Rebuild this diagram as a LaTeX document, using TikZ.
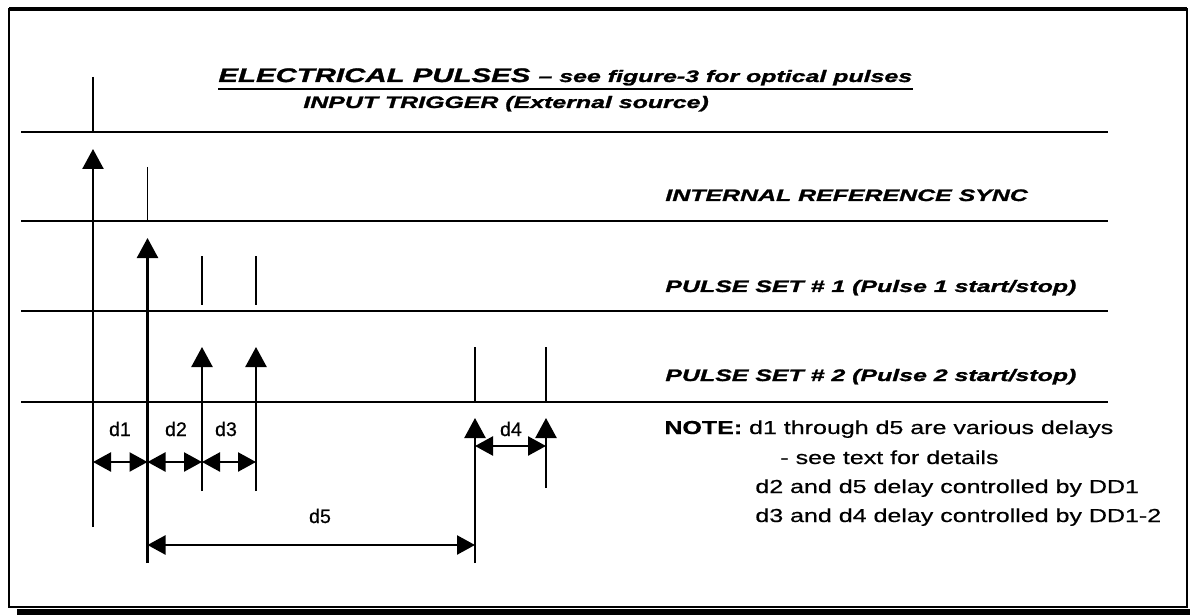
\documentclass[tikz,border=0pt]{standalone}
\usepackage{fontspec}
\setmainfont[FakeBold=0.6]{Liberation Sans}
\newfontfamily\tagfont[FakeStretch=1.5,FakeBold=1.4]{Liberation Sans}
\newfontfamily\notefont[FakeStretch=1.33,FakeBold=0.6]{Liberation Sans}
\usepackage{tikz}
\usetikzlibrary{
    arrows.meta,
    positioning,
    calc
}
\tikzset{
    timeline/.style={
        line width=1.4pt
    },
    tickline/.style={
        line width=0.9pt
    },
    pulse/.style={
        -{Triangle[length=10pt,width=10.5pt]},
        line width=1.2pt
    },
    delay/.style={
        {Triangle[length=9pt,width=9.5pt]}-{Triangle[length=9pt,width=9.5pt]},
        line width=1.2pt
    },
    tag/.style={
        anchor=base west,
        inner sep=0pt,
        font=\tagfont\bfseries\itshape\fontsize{8.3}{10}\selectfont
    },
    note/.style={
        anchor=base west,
        inner sep=0pt,
        font=\notefont\fontsize{9.4}{11}\selectfont
    },
    dlabel/.style={
        anchor=base,
        inner sep=0pt,
        font=\fontsize{9.8}{11}\selectfont
    },
    frame/.style={
        line width=1.1pt
    }
}

\begin{document}
\begin{tikzpicture}[x=0.5pt,y=-0.5pt]
\useasboundingbox (0,0) rectangle (1190,615);

\draw[frame] (9,9) rectangle (1187,607);
\draw[line width=2pt] (9,9) -- (1187,9);
\fill (17,609) rectangle (1190,615);

\node[tag, font=\tagfont\bfseries\itshape\fontsize{9.8}{11}\selectfont] (title) at (218,82)
    {ELECTRICAL PULSES {\fontsize{8.3}{10}\selectfont – see figure-3 for optical pulses}};
\draw[line width=0.9pt] ([yshift=-3.5pt]title.base west) -- ([yshift=-3.5pt]title.base east);

\node[tag] (input) at (303,108) {INPUT TRIGGER (External source)};
\node[tag] (synclbl) at (665,201) {INTERNAL REFERENCE SYNC};
\node[tag] (setone) at (665,292) {PULSE SET \# 1 (Pulse 1 start/stop)};
\node[tag] (settwo) at (665,381) {PULSE SET \# 2 (Pulse 2 start/stop)};

\foreach \y [count=\i] in {132,221,311,402}
{
    \coordinate (l\i-w) at (21,\y);
    \coordinate (l\i-e) at (1108,\y);
    \draw[timeline] (l\i-w) -- (l\i-e);
}

\foreach \n/\x/\mt/\mb/\tip/\tail in {
    trig/93/77/132/149/527,
    sync/147.5/167/221/238/563,
    ps1a/202/256/305/347/491,
    ps1b/256/256/305/347/491,
    ps2a/475/347/402/418/563,
    ps2b/546/347/402/418/488}
{
    \coordinate (\n-top) at (\x,\mt);
    \coordinate (\n-bot) at (\x,\mb);
    \coordinate (\n-tip) at (\x,\tip);
    \coordinate (\n-end) at (\x,\tail);
    \draw[tickline] (\n-top) -- (\n-bot);
    \draw[pulse] (\n-end) -- (\n-tip);
}

\coordinate (rowa) at (0,462);
\coordinate (rowb) at (0,446);
\coordinate (rowc) at (0,545);

\draw[delay] (trig-end |- rowa) -- (sync-end |- rowa);
\draw[delay] (sync-end |- rowa) -- (ps1a-end |- rowa);
\draw[delay] (ps1a-end |- rowa) -- (ps1b-end |- rowa);
\draw[delay] (ps2a-end |- rowb) -- (ps2b-end |- rowb);
\draw[delay] (sync-end |- rowc) -- (ps2a-end |- rowc);

\node[dlabel] (d1) at (120,436) {d1};
\node[dlabel] (d2) at (176,436) {d2};
\node[dlabel] (d3) at (226,436) {d3};
\node[dlabel] (d4) at (511,436) {d4};
\node[dlabel] (d5) at (320,523) {d5};

\node[note] (note1) at (664,434) {\textbf{NOTE:} d1 through d5 are various delays};
\node[note] (note2) at (780,464) {- see text for details};
\node[note] (note3) at (755,493) {d2 and d5 delay controlled by DD1};
\node[note] (note4) at (755,522) {d3 and d4 delay controlled by DD1-2};
\end{tikzpicture}
\end{document}
